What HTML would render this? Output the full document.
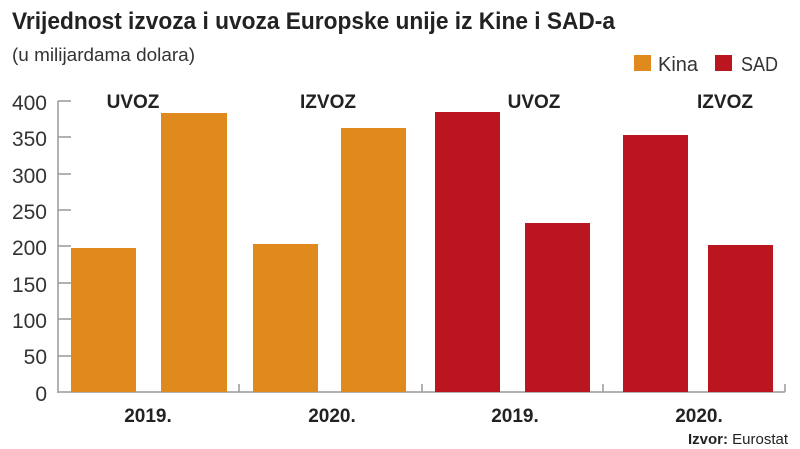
<!DOCTYPE html><html><head><style>body{margin:0;background:#fff}svg{display:block}text{font-family:"Liberation Sans Narrow","Liberation Sans",sans-serif}</style></head><body>
<svg width="800" height="449" viewBox="0 0 800 449">
<text x="12" y="29" font-size="24" font-weight="bold" fill="#222" textLength="603" lengthAdjust="spacingAndGlyphs">Vrijednost izvoza i uvoza Europske unije iz Kine i SAD-a</text>
<text x="12" y="61" font-size="18" fill="#333" textLength="183" lengthAdjust="spacingAndGlyphs">(u milijardama dolara)</text>
<rect x="634" y="55" width="17" height="16" fill="#e0891d"/><text x="658" y="71" font-size="20" fill="#333" textLength="40" lengthAdjust="spacingAndGlyphs">Kina</text>
<rect x="715" y="55" width="17" height="16" fill="#bb1620"/><text x="741" y="71" font-size="20" fill="#333" textLength="37" lengthAdjust="spacingAndGlyphs">SAD</text>
<g font-size="21" fill="#333" text-anchor="end">
<text x="47" y="110">400</text><text x="47" y="146">350</text><text x="47" y="183">300</text><text x="47" y="219">250</text><text x="47" y="255">200</text><text x="47" y="292">150</text><text x="47" y="328">100</text><text x="47" y="364">50</text><text x="47" y="401">0</text></g>
<g stroke="#999" stroke-width="1.5"><line x1="58" y1="101" x2="58" y2="393"/><line x1="58" y1="392" x2="785" y2="392"/>
<line x1="58" y1="101" x2="71" y2="101"/><line x1="58" y1="137" x2="71" y2="137"/><line x1="58" y1="174" x2="71" y2="174"/><line x1="58" y1="210" x2="71" y2="210"/><line x1="58" y1="246" x2="71" y2="246"/><line x1="58" y1="283" x2="71" y2="283"/><line x1="58" y1="319" x2="71" y2="319"/><line x1="58" y1="356" x2="71" y2="356"/>
<line x1="239" y1="384" x2="239" y2="392"/><line x1="422" y1="384" x2="422" y2="392"/><line x1="603" y1="384" x2="603" y2="392"/><line x1="785" y1="384" x2="785" y2="392"/></g>
<g fill="#e0891d"><rect x="71" y="248" width="65" height="144"/><rect x="161" y="113" width="66" height="279"/><rect x="253" y="244" width="65" height="148"/><rect x="341" y="128" width="65" height="264"/></g>
<g fill="#bb1620"><rect x="435" y="112" width="65" height="280"/><rect x="525" y="223" width="65" height="169"/><rect x="623" y="135" width="65" height="257"/><rect x="708" y="245" width="65" height="147"/></g>
<g font-size="19" font-weight="bold" fill="#222" text-anchor="middle">
<text x="133" y="108">UVOZ</text><text x="328" y="108">IZVOZ</text><text x="534" y="108">UVOZ</text><text x="725" y="108">IZVOZ</text>
<text x="148" y="422">2019.</text><text x="332" y="422">2020.</text><text x="515" y="422">2019.</text><text x="699" y="422">2020.</text></g>
<text x="788" y="444" font-size="15" fill="#222" text-anchor="end"><tspan font-weight="bold">Izvor:</tspan> Eurostat</text>
</svg></body></html>
